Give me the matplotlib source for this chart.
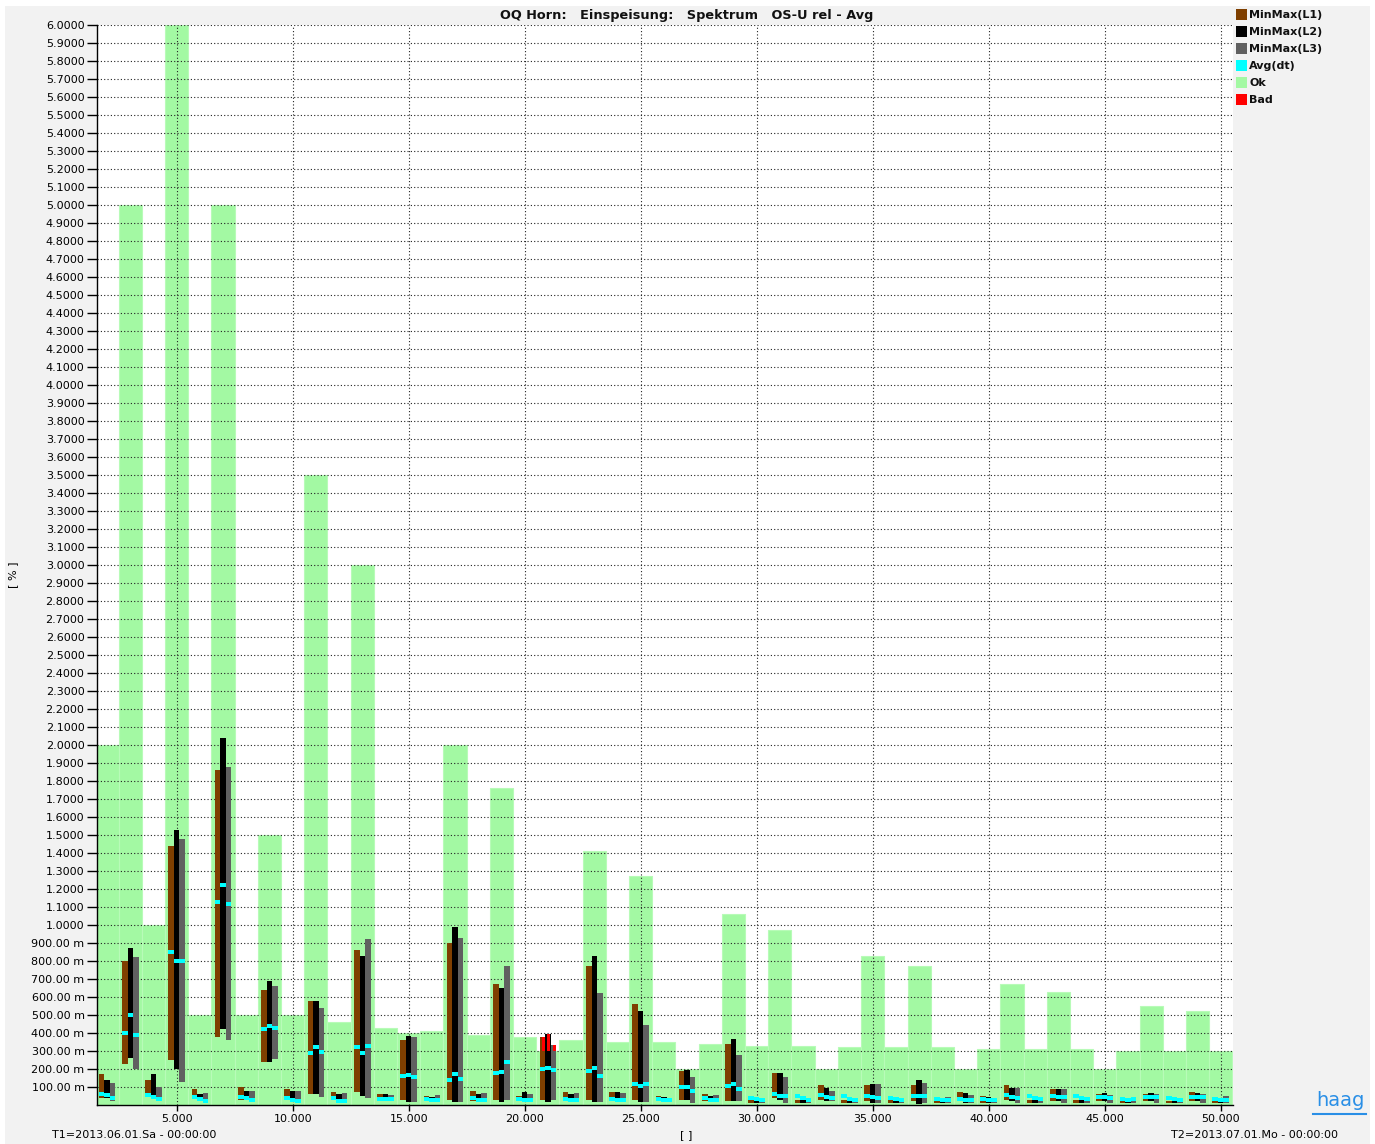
import matplotlib
matplotlib.use('Agg')
import matplotlib.pyplot as plt
from matplotlib.patches import Rectangle
from matplotlib.lines import Line2D
from matplotlib.ticker import FixedLocator, FuncFormatter
import numpy as np

# ---------------- data ----------------
orders = list(range(2, 51))

limit_ok = [2.0, 5.0, 1.0, 6.0, 0.5, 5.0, 0.5, 1.5, 0.5, 3.5,
            0.46, 3.0, 0.43, 0.40, 0.41, 2.0, 0.39, 1.76, 0.38, 0.30,
            0.36, 1.41, 0.35, 1.27, 0.35, 0.20, 0.34, 1.06, 0.33, 0.97,
            0.33, 0.20, 0.32, 0.83, 0.32, 0.77, 0.32, 0.20, 0.31, 0.67,
            0.31, 0.63, 0.31, 0.20, 0.30, 0.55, 0.30, 0.52, 0.30]

l1_max = [0.17, 0.80, 0.14, 1.44, 0.09, 1.86, 0.10, 0.64, 0.09, 0.58,
          0.07, 0.86, 0.06, 0.36, 0.05, 0.90, 0.08, 0.67, 0.05, 0.376,
          0.07, 0.77, 0.07, 0.56, 0.05, 0.19, 0.06, 0.34, 0.03, 0.18,
          0.03, 0.11, 0.03, 0.11, 0.03, 0.11, 0.03, 0.07, 0.05, 0.11,
          0.03, 0.09, 0.03, 0.06, 0.02, 0.06, 0.02, 0.07, 0.02]
l1_min = [0.04, 0.23, 0.05, 0.25, 0.04, 0.38, 0.03, 0.24, 0.03, 0.06,
          0.03, 0.07, 0.02, 0.03, 0.02, 0.03, 0.02, 0.03, 0.02, 0.03,
          0.02, 0.03, 0.02, 0.03, 0.02, 0.03, 0.02, 0.02, 0.01, 0.04,
          0.01, 0.03, 0.01, 0.02, 0.01, 0.02, 0.01, 0.02, 0.01, 0.03,
          0.01, 0.02, 0.01, 0.02, 0.01, 0.02, 0.01, 0.02, 0.01]
l1_avg = [0.06, 0.40, 0.055, 0.85, 0.046, 1.13, 0.045, 0.42, 0.037, 0.29,
          0.037, 0.32, 0.032, 0.16, 0.032, 0.14, 0.037, 0.18, 0.032, 0.20,
          0.032, 0.19, 0.032, 0.115, 0.032, 0.098, 0.037, 0.107, 0.04, 0.059,
          0.05, 0.055, 0.05, 0.05, 0.04, 0.05, 0.035, 0.035, 0.032, 0.055,
          0.05, 0.05, 0.05, 0.046, 0.035, 0.046, 0.038, 0.046, 0.035]

l2_max = [0.14, 0.87, 0.17, 1.53, 0.06, 2.04, 0.08, 0.69, 0.08, 0.58,
          0.06, 0.83, 0.06, 0.385, 0.046, 0.99, 0.06, 0.65, 0.074, 0.394,
          0.06, 0.83, 0.072, 0.52, 0.046, 0.195, 0.05, 0.365, 0.043, 0.176,
          0.043, 0.093, 0.04, 0.119, 0.035, 0.139, 0.035, 0.067, 0.043, 0.093,
          0.043, 0.087, 0.035, 0.069, 0.03, 0.069, 0.03, 0.069, 0.03]
l2_min = [0.04, 0.26, 0.055, 0.20, 0.03, 0.42, 0.03, 0.24, 0.02, 0.06,
          0.02, 0.05, 0.02, 0.017, 0.015, 0.017, 0.015, 0.017, 0.015, 0.017,
          0.015, 0.017, 0.015, 0.017, 0.015, 0.028, 0.015, 0.02, 0.01, 0.03,
          0.01, 0.02, 0.01, 0.01, 0.01, 0.005, 0.01, 0.01, 0.01, 0.02,
          0.01, 0.02, 0.01, 0.02, 0.01, 0.02, 0.01, 0.02, 0.01]
l2_avg = [0.055, 0.50, 0.043, 0.80, 0.032, 1.22, 0.037, 0.44, 0.03, 0.32,
          0.024, 0.29, 0.032, 0.167, 0.028, 0.17, 0.028, 0.185, 0.028, 0.207,
          0.028, 0.207, 0.028, 0.106, 0.028, 0.102, 0.03, 0.117, 0.035, 0.05,
          0.04, 0.046, 0.035, 0.046, 0.035, 0.05, 0.03, 0.03, 0.03, 0.043,
          0.04, 0.046, 0.04, 0.046, 0.03, 0.046, 0.035, 0.046, 0.03]

l3_max = [0.12, 0.82, 0.10, 1.48, 0.068, 1.88, 0.08, 0.66, 0.08, 0.54,
          0.068, 0.92, 0.054, 0.378, 0.054, 0.926, 0.069, 0.77, 0.06, 0.332,
          0.067, 0.62, 0.067, 0.446, 0.041, 0.156, 0.054, 0.276, 0.035, 0.156,
          0.035, 0.08, 0.035, 0.119, 0.03, 0.124, 0.043, 0.056, 0.037, 0.093,
          0.037, 0.087, 0.03, 0.056, 0.043, 0.061, 0.025, 0.061, 0.048]
l3_min = [0.024, 0.20, 0.04, 0.128, 0.02, 0.36, 0.02, 0.257, 0.02, 0.046,
          0.02, 0.037, 0.02, 0.017, 0.015, 0.017, 0.015, 0.028, 0.015, 0.028,
          0.015, 0.017, 0.015, 0.017, 0.015, 0.01, 0.015, 0.02, 0.01, 0.01,
          0.01, 0.02, 0.01, 0.01, 0.01, 0.01, 0.01, 0.01, 0.01, 0.01,
          0.01, 0.01, 0.01, 0.01, 0.01, 0.01, 0.01, 0.01, 0.01]
l3_avg = [0.037, 0.39, 0.032, 0.80, 0.024, 1.117, 0.03, 0.426, 0.022, 0.296,
          0.024, 0.328, 0.032, 0.156, 0.028, 0.144, 0.028, 0.237, 0.026, 0.194,
          0.026, 0.163, 0.028, 0.115, 0.028, 0.078, 0.028, 0.087, 0.03, 0.05,
          0.03, 0.04, 0.03, 0.04, 0.03, 0.05, 0.03, 0.03, 0.03, 0.04,
          0.035, 0.046, 0.035, 0.04, 0.035, 0.046, 0.03, 0.046, 0.03]

bad_orders = [21]

y_ticks = [round(0.1 * i, 1) for i in range(1, 61)]
x_ticks = [5, 10, 15, 20, 25, 30, 35, 40, 45, 50]

title = "OQ Horn:   Einspeisung:   Spektrum   OS-U rel - Avg"
legend_labels = ["MinMax(L1)", "MinMax(L2)", "MinMax(L3)", "Avg(dt)", "Ok", "Bad"]

# ---------------- styles ----------------
C_L1 = '#7f3f00'
C_L2 = '#000000'
C_L3 = '#606060'
C_AVG = '#00ffff'
C_OK = '#a3f9a3'
C_BAD = '#ff0000'
legend_colors = [C_L1, C_L2, C_L3, C_AVG, C_OK, C_BAD]

W, H = 1375, 1144
fig = plt.figure(figsize=(W / 100, H / 100), dpi=100, facecolor='white')
fig.patches.append(Rectangle((5 / W, 0), (1370 - 5) / W, 1 - 6 / H,
                             transform=fig.transFigure, facecolor='#f2f2f2',
                             edgecolor='none', zorder=-10))

ax = fig.add_axes([97 / W, 1 - 1105 / H, (1233 - 97) / W, (1105 - 25) / H])
ax.set_facecolor('white')
ax.set_xlim(1.565, 50.53)
ax.set_ylim(0, 6.0)

# Ok limits
ax.bar(orders, limit_ok, width=1.0, color=C_OK, edgecolor='#b8fbb8',
       linewidth=0.8, zorder=0.2)

# MinMax bars
bw = 0.24
offsets = [-0.24, 0.0, 0.24]
phases = [(l1_min, l1_max, l1_avg, C_L1),
          (l2_min, l2_max, l2_avg, C_L2),
          (l3_min, l3_max, l3_avg, C_L3)]
x = np.array(orders, dtype=float)
for k, (mn, mx, av, col) in enumerate(phases):
    mn = np.array(mn); mx = np.array(mx); av = np.array(av)
    ax.bar(x + offsets[k], mx - mn, bottom=mn, width=bw, color=col,
           linewidth=0, zorder=2 + 0.1 * k)
    ax.bar(x + offsets[k], 0.022, bottom=av - 0.011, width=bw, color=C_AVG,
           linewidth=0, zorder=3)
    # bad portions
    for h in bad_orders:
        i = orders.index(h)
        if mx[i] > limit_ok[i]:
            ax.bar(h + offsets[k] + 0.04, mx[i] - limit_ok[i], bottom=limit_ok[i],
                   width=0.14, color=C_BAD, linewidth=0, zorder=3.5)

# grid
ax.set_axisbelow(True)
ax.yaxis.set_major_locator(FixedLocator(y_ticks))
ax.xaxis.set_major_locator(FixedLocator(x_ticks))


def yfmt(v, pos):
    if v >= 0.999:
        return f"{v:.4f}"
    return f"{v * 1000:.2f} m"


ax.yaxis.set_major_formatter(FuncFormatter(yfmt))
ax.xaxis.set_major_formatter(FuncFormatter(lambda v, p: f"{v:.3f}"))
ax.grid(True, which='major', linestyle=(0, (1, 2)), color='#222222', linewidth=0.8)

ax.tick_params(axis='y', direction='out', length=7, width=1, labelsize=8, pad=2,
               colors='black')
ax.tick_params(axis='x', direction='out', length=4.5, width=1, labelsize=8, pad=2,
               colors='black')
for s in ['top', 'right']:
    ax.spines[s].set_visible(False)
for s in ['left', 'bottom']:
    ax.spines[s].set_color('black')
    ax.spines[s].set_linewidth(1)

# texts
fig.text(686.5 / W, 1 - 15 / H, title, ha='center', va='center',
         fontsize=9.3, fontweight='bold', color='#111111')
fig.text(13 / W, 1 - 575 / H, "[ % ]", rotation=90, ha='center', va='center',
         fontsize=8)
fig.text(686 / W, 1 - 1135 / H, "[ ]", ha='center', va='center', fontsize=8)
fig.text(52 / W, 1 - 1135 / H, "T1=2013.06.01.Sa - 00:00:00", ha='left',
         va='center', fontsize=8)
fig.text(1338 / W, 1 - 1135 / H, "T2=2013.07.01.Mo - 00:00:00", ha='right',
         va='center', fontsize=8)

# legend
for i, (lab, col) in enumerate(zip(legend_labels, legend_colors)):
    yc = 15 + 17 * i
    fig.patches.append(Rectangle((1236 / W, 1 - (yc + 5) / H), 11 / W, 11 / H,
                                 transform=fig.transFigure, facecolor=col,
                                 edgecolor='none'))
    fig.text(1249 / W, 1 - yc / H, lab, ha='left', va='center', fontsize=8,
             fontweight='bold', color='#111111')

# logo
fig.text(1340 / W, 1 - 1100 / H, "haag", ha='center', va='center', fontsize=14,
         color='#2a8fe6')
fig.lines.append(Line2D([1313 / W, 1366 / W], [1 - 1114 / H, 1 - 1114 / H],
                        transform=fig.transFigure, color='#2a8fe6', linewidth=1.5))

fig.savefig('out.png', dpi=100, facecolor=fig.get_facecolor())
